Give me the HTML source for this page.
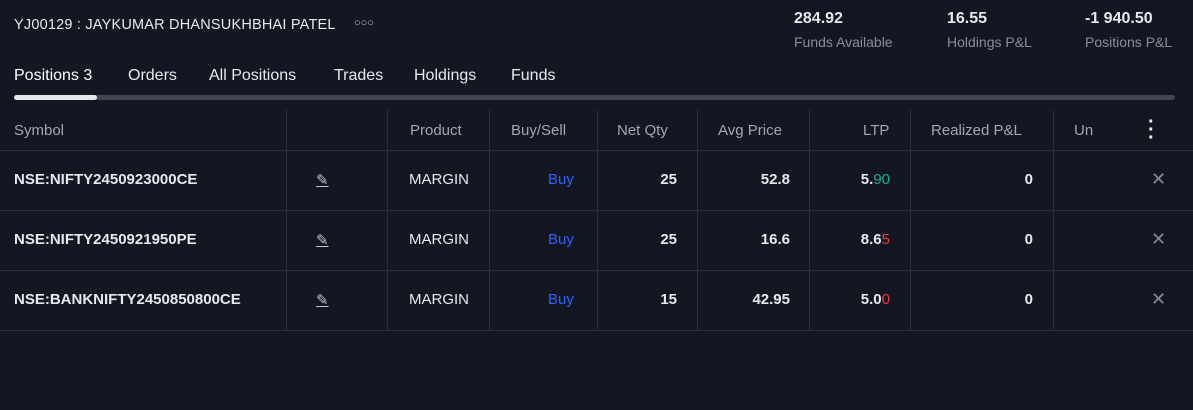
<!DOCTYPE html>
<html><head><meta charset="utf-8"><style>
body{margin:0;width:1193px;height:410px;background:#131722;font-family:"Liberation Sans",sans-serif;color:#d1d4dc;position:relative;overflow:hidden}
.a{position:absolute;white-space:nowrap}
.h{color:#a3a6af;font-size:15px;top:122px}
.c{font-size:15px;font-weight:bold;color:#e6e8ee}
.vl{position:absolute;top:110px;height:220px;width:1px;background:#2a2e39}
.hl{position:absolute;left:0;width:1193px;height:1px;background:#2a2e39}
.r{text-align:right}
</style></head><body>
<div class="a" style="left:14px;top:17px;font-size:14.5px;color:#e6e8ee;letter-spacing:0.2px">YJ00129 : JAYKUMAR DHANSUKHBHAI PATEL</div>
<div class="a" style="left:354px;top:17px;font-size:11px;color:#c0c3cb;letter-spacing:0px">○○○</div>
<div class="a" style="left:794px;top:10px;font-size:16px;font-weight:bold;color:#e6e8ee">284.92</div>
<div class="a" style="left:794px;top:34px;font-size:14px;color:#8a8e98">Funds Available</div>
<div class="a" style="left:947px;top:10px;font-size:16px;font-weight:bold;color:#e6e8ee">16.55</div>
<div class="a" style="left:947px;top:34px;font-size:14px;color:#8a8e98">Holdings P&amp;L</div>
<div class="a" style="left:1085px;top:10px;font-size:16px;font-weight:bold;color:#e6e8ee">-1 940.50</div>
<div class="a" style="left:1085px;top:34px;font-size:14px;color:#8a8e98">Positions P&amp;L</div>
<div class="a" style="left:14px;top:67px;font-size:16px;color:#fff">Positions 3</div>
<div class="a" style="left:128px;top:67px;font-size:16px;color:#e6e8ee">Orders</div>
<div class="a" style="left:209px;top:67px;font-size:16px;color:#e6e8ee">All Positions</div>
<div class="a" style="left:334px;top:67px;font-size:16px;color:#e6e8ee">Trades</div>
<div class="a" style="left:414px;top:67px;font-size:16px;color:#e6e8ee">Holdings</div>
<div class="a" style="left:511px;top:67px;font-size:16px;color:#e6e8ee">Funds</div>
<div class="a" style="left:14px;top:95px;width:1161px;height:5px;border-radius:3px;background:#434651"></div>
<div class="a" style="left:14px;top:95px;width:83px;height:5px;border-radius:3px;background:#e6e8ee"></div>
<div class="vl" style="left:286px"></div><div class="vl" style="left:387px"></div><div class="vl" style="left:489px"></div><div class="vl" style="left:597px"></div><div class="vl" style="left:697px"></div><div class="vl" style="left:809px"></div><div class="vl" style="left:910px"></div><div class="vl" style="left:1053px"></div>
<div class="hl" style="top:150px"></div><div class="hl" style="top:210px"></div><div class="hl" style="top:270px"></div><div class="hl" style="top:330px"></div>
<div class="a h" style="left:14px">Symbol</div>
<div class="a h" style="left:410px">Product</div>
<div class="a h" style="left:511px">Buy/Sell</div>
<div class="a h" style="left:617px">Net Qty</div>
<div class="a h" style="left:718px">Avg Price</div>
<div class="a h" style="left:863px">LTP</div>
<div class="a h" style="left:931px">Realized P&amp;L</div>
<div class="a h" style="left:1074px">Un</div>
<div class="a" style="left:1148px;top:118px;font-size:20px;font-weight:bold;color:#e6e8ee;line-height:8px">·<br>·<br>·</div>
<div id="rows"></div>
<script>
const symbols=["NSE:NIFTY2450923000CE","NSE:NIFTY2450921950PE","NSE:BANKNIFTY2450850800CE"];
const qty=[25,25,15];
const avg=["52.8","16.6","42.95"];
const ltpA=["5.","8.6","5.0"],ltpB=["90","5","0"],ltpCol=["#22ab94","#f23645","#f23645"];
const rows=document.getElementById('rows');
symbols.forEach((s,i)=>{
 const t=171+i*60;
 const html=`<div class="a c" style="left:14px;top:${t}px">${s}</div>
 <div class="a" style="left:316px;top:${t}px;font-size:15px;color:#c0c3cb;text-decoration:underline">✎</div>
 <div class="a c" style="left:409px;top:${t}px;font-weight:normal;color:#e6e8ee">MARGIN</div>
 <div class="a" style="left:548px;top:${t}px;font-size:15px;color:#2962ff">Buy</div>
 <div class="a c r" style="right:${1193-677}px;top:${t}px">${qty[i]}</div>
 <div class="a c r" style="right:${1193-790}px;top:${t}px">${avg[i]}</div>
 <div class="a c r" style="right:${1193-890}px;top:${t}px">${ltpA[i]}<span style="color:${ltpCol[i]};font-weight:normal">${ltpB[i]}</span></div>
 <div class="a c r" style="right:${1193-1033}px;top:${t}px">0</div>
 <div class="a" style="left:1151px;top:${t-2}px;font-size:18px;color:#868993">✕</div>`;
 const g=document.createElement('div');
 
 
 g.innerHTML=html;rows.appendChild(g);
});
</script>
</body></html>
